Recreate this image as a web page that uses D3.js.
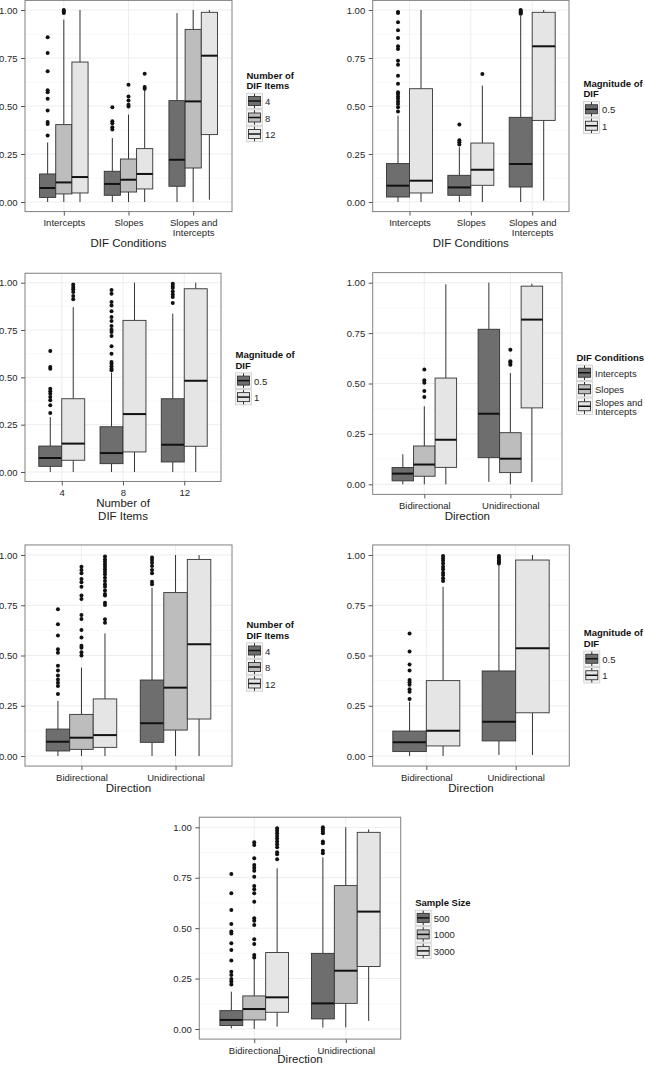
<!DOCTYPE html>
<html><head><meta charset="utf-8">
<script src="https://cdn.jsdelivr.net/npm/d3@7"></script>
<style>body{margin:0;background:#fff} svg{display:block} text{font-family:"Liberation Sans",Arial,Helvetica,sans-serif}</style>
</head><body>
<svg id="chart" width="645" height="1065"></svg>
<script>
// ---------- DATA ----------
// stats per category, per group: [lowerWhisker, Q1, median, Q3, upperWhisker]
const p1Categories = ["Intercepts", "Slopes", "Slopes and\nIntercepts"];
const p1Groups = ["4", "8", "12"];
const p1Stats = [
  [[0, 0.024, 0.073, 0.146, 0.31], [0, 0.042, 0.102, 0.403, 0.95], [0, 0.047, 0.130, 0.729, 1.0]],
  [[0, 0.035, 0.094, 0.160, 0.333], [0, 0.052, 0.116, 0.224, 0.455], [0, 0.068, 0.146, 0.278, 0.585]],
  [[0, 0.082, 0.220, 0.528, 0.984], [0, 0.177, 0.524, 0.899, 1.0], [0.012, 0.351, 0.762, 0.988, 1.0]]
];
const p1Outliers = [
  [[0.858, 0.776, 0.681, 0.582, 0.571, 0.538, 0.476, 0.417, 0.406, 0.347], [0.985, 0.993, 1.0], []],
  [[0.493, 0.42, 0.41, 0.389, 0.377], [0.611, 0.55, 0.528, 0.507, 0.498], [0.668, 0.599, 0.590]],
  [[], [], []]
];

const p2Categories = ["Intercepts", "Slopes", "Slopes and\nIntercepts"];
const p2Groups = ["0.5", "1"];
const p2Stats = [
  [[0, 0.026, 0.085, 0.200, 0.45], [0, 0.047, 0.111, 0.590, 1.0]],
  [[0, 0.035, 0.076, 0.139, 0.285], [0, 0.087, 0.168, 0.307, 0.606]],
  [[0, 0.078, 0.198, 0.441, 0.97], [0.007, 0.425, 0.811, 0.988, 1.0]]
];
const p2Outliers = [
  [[0.99, 0.985, 0.936, 0.894, 0.854, 0.811, 0.797, 0.736, 0.715, 0.658, 0.616, 0.571, 0.562, 0.55, 0.538, 0.524, 0.51, 0.493, 0.472], []],
  [[0.403, 0.321, 0.311, 0.299], [0.667]],
  [[0.98, 0.985, 0.99, 0.995, 1.0], []]
];

const p3Categories = ["4", "8", "12"];
const p3Groups = ["0.5", "1"];
const p3Stats = [
  [[0, 0.030, 0.074, 0.137, 0.29], [0, 0.062, 0.150, 0.387, 0.871]],
  [[0, 0.044, 0.100, 0.239, 0.525], [0, 0.106, 0.306, 0.801, 1.0]],
  [[0, 0.053, 0.144, 0.387, 0.836], [0, 0.136, 0.482, 0.968, 1.0]]
];
const p3Outliers = [
  [[0.639, 0.555, 0.546, 0.44, 0.426, 0.414, 0.396, 0.379, 0.352, 0.312], [0.99, 0.977, 0.965, 0.951, 0.93, 0.912]],
  [[0.961, 0.942, 0.898, 0.88, 0.849, 0.819, 0.798, 0.771, 0.752, 0.739, 0.718, 0.664, 0.625, 0.581, 0.572, 0.558, 0.546, 0.537], []],
  [[0.995, 0.982, 0.972, 0.954, 0.938, 0.924, 0.893], []]
];

const p4Categories = ["Bidirectional", "Unidirectional"];
const p4Groups = ["Intercepts", "Slopes", "Slopes and\nIntercepts"];
const p4Stats = [
  [[0, 0.017, 0.053, 0.083, 0.149], [0, 0.040, 0.098, 0.190, 0.387], [0, 0.084, 0.221, 0.527, 0.992]],
  [[0.012, 0.132, 0.350, 0.769, 1.0], [0, 0.058, 0.127, 0.256, 0.552], [0.012, 0.379, 0.817, 0.983, 0.995]]
];
const p4Outliers = [
  [[], [0.570, 0.516, 0.504, 0.463, 0.433], []],
  [[], [0.668, 0.61, 0.602, 0.593], []]
];

const p5Categories = ["Bidirectional", "Unidirectional"];
const p5Groups = ["4", "8", "12"];
const p5Stats = [
  [[0, 0.025, 0.071, 0.134, 0.274], [0, 0.033, 0.091, 0.207, 0.44], [0, 0.043, 0.104, 0.284, 0.61]],
  [[0, 0.068, 0.163, 0.378, 0.837], [0, 0.129, 0.340, 0.813, 1.0], [0, 0.184, 0.556, 0.978, 1.0]]
];
const p5Outliers = [
  [[0.73, 0.655, 0.599, 0.531, 0.514, 0.449, 0.425, 0.4, 0.381, 0.365, 0.348, 0.308],
   [0.942, 0.925, 0.909, 0.881, 0.864, 0.842, 0.798, 0.781, 0.701, 0.682, 0.627, 0.590, 0.549, 0.539, 0.516, 0.5],
   [0.992, 0.978, 0.967, 0.954, 0.942, 0.929, 0.917, 0.904, 0.887, 0.871, 0.854, 0.842, 0.823, 0.806, 0.798, 0.763, 0.751, 0.68, 0.663]],
  [[0.987, 0.975, 0.962, 0.945, 0.925, 0.909, 0.867, 0.854], [], []]
];

const p6Categories = ["Bidirectional", "Unidirectional"];
const p6Groups = ["0.5", "1"];
const p6Stats = [
  [[0, 0.022, 0.068, 0.124, 0.27], [0, 0.050, 0.126, 0.375, 0.842]],
  [[0.005, 0.075, 0.171, 0.423, 0.95], [0.005, 0.215, 0.536, 0.975, 1.0]]
];
const p6Outliers = [
  [[0.61, 0.52, 0.455, 0.425, 0.378, 0.367, 0.355, 0.332, 0.32, 0.284], [0.995, 0.983, 0.972, 0.958, 0.942, 0.929, 0.912, 0.9, 0.884, 0.871]],
  [[0.995, 0.988, 0.98, 0.972, 0.965, 0.958], []]
];

const p7Categories = ["Bidirectional", "Unidirectional"];
const p7Groups = ["500", "1000", "3000"];
const p7Stats = [
  [[0.003, 0.017, 0.045, 0.091, 0.185], [0, 0.045, 0.099, 0.164, 0.35], [0.012, 0.083, 0.157, 0.379, 0.797]],
  [[0.007, 0.050, 0.127, 0.375, 0.851], [0.008, 0.127, 0.289, 0.711, 1.0], [0.04, 0.310, 0.582, 0.975, 0.99]]
];
const p7Outliers = [
  [[0.769, 0.673, 0.590, 0.521, 0.483, 0.474, 0.425, 0.392, 0.339, 0.284, 0.268, 0.248, 0.235, 0.221],
   [0.926, 0.912, 0.846, 0.813, 0.8, 0.785, 0.755, 0.709, 0.693, 0.673, 0.631, 0.549, 0.537, 0.516, 0.445, 0.421, 0.367, 0.354],
   [0.995, 0.983, 0.97, 0.957, 0.945, 0.929, 0.916, 0.901, 0.876, 0.866, 0.841]],
  [[1.0, 0.99, 0.979, 0.97, 0.929, 0.921, 0.884, 0.871], [], []]
];

const yTickValues = [0, 0.25, 0.5, 0.75, 1.0];

// ---------- LAYOUT ----------
const panels = [
  {cats: p1Categories, groups: p1Groups, stats: p1Stats, outliers: p1Outliers, xTitle: "DIF Conditions", legendTitle: "Number of\nDIF Items", box: {left: 25, right: 232, y1: 10, y0: 202}},
  {cats: p2Categories, groups: p2Groups, stats: p2Stats, outliers: p2Outliers, xTitle: "DIF Conditions", legendTitle: "Magnitude of\nDIF", box: {left: 372.7, right: 569, y1: 10, y0: 202}},
  {cats: p3Categories, groups: p3Groups, stats: p3Stats, outliers: p3Outliers, xTitle: "Number of\nDIF Items", legendTitle: "Magnitude of\nDIF", box: {left: 25, right: 221, y1: 282.7, y0: 472}},
  {cats: p4Categories, groups: p4Groups, stats: p4Stats, outliers: p4Outliers, xTitle: "Direction", legendTitle: "DIF Conditions", box: {left: 372.7, right: 562, y1: 282.7, y0: 484.3}},
  {cats: p5Categories, groups: p5Groups, stats: p5Stats, outliers: p5Outliers, xTitle: "Direction", legendTitle: "Number of\nDIF Items", box: {left: 25, right: 232, y1: 555, y0: 756}},
  {cats: p6Categories, groups: p6Groups, stats: p6Stats, outliers: p6Outliers, xTitle: "Direction", legendTitle: "Magnitude of\nDIF", box: {left: 372.7, right: 569.3, y1: 555, y0: 756}},
  {cats: p7Categories, groups: p7Groups, stats: p7Stats, outliers: p7Outliers, xTitle: "Direction", legendTitle: "Sample Size", box: {left: 199.3, right: 400.7, y1: 827.3, y0: 1029}}
];

const svg = d3.select("#chart");
const TEXT = "#262626";
const H = 1065;

function drawPanel(p) {
  const g = svg.append("g");
  const b = p.box;
  const y = d3.scaleLinear().domain([0, 1]).range([b.y0, b.y1]);
  const top = y(1.05), bottom = y(-0.05);
  const n = p.cats.length, k = p.groups.length;
  const x = d3.scaleLinear().domain([0.4, n + 0.6]).range([b.left, b.right]);
  const fill = d3.scaleLinear().domain([0, k - 1]).range(["#6e6e6e", "#e5e5e5"]);
  const fillFor = j => k === 3 && j === 1 ? "#bdbdbd" : fill(j);

  g.append("rect").attr("x", b.left).attr("y", top).attr("width", b.right - b.left).attr("height", bottom - top).attr("fill", "#fff");
  [0.125, 0.375, 0.625, 0.875].forEach(v => g.append("line").attr("x1", b.left).attr("x2", b.right)
    .attr("y1", y(v)).attr("y2", y(v)).attr("stroke", "#f5f5f5").attr("stroke-width", 0.6));
  yTickValues.forEach(v => g.append("line").attr("x1", b.left).attr("x2", b.right)
    .attr("y1", y(v)).attr("y2", y(v)).attr("stroke", "#e8e8e8").attr("stroke-width", 0.8));
  d3.range(1, n + 1).forEach(c => g.append("line").attr("x1", x(c)).attr("x2", x(c))
    .attr("y1", top).attr("y2", bottom).attr("stroke", "#e8e8e8").attr("stroke-width", 0.8));

  const totalW = 0.75, bw = totalW / k;
  p.cats.forEach((cat, i) => {
    p.groups.forEach((gr, j) => {
      const s = p.stats[i][j];
      const cx = i + 1 - totalW / 2 + bw * (j + 0.5);
      const xl = x(cx - bw / 2), xr = x(cx + bw / 2), xc = x(cx);
      g.append("line").attr("x1", xc).attr("x2", xc).attr("y1", y(s[0])).attr("y2", y(s[1])).attr("stroke", "#333").attr("stroke-width", 1);
      g.append("line").attr("x1", xc).attr("x2", xc).attr("y1", y(s[3])).attr("y2", y(s[4])).attr("stroke", "#333").attr("stroke-width", 1);
      g.append("rect").attr("x", xl).attr("y", y(s[3])).attr("width", xr - xl).attr("height", y(s[1]) - y(s[3]))
        .attr("fill", fillFor(j)).attr("stroke", "#333").attr("stroke-width", 0.9);
      g.append("line").attr("x1", xl).attr("x2", xr).attr("y1", y(s[2])).attr("y2", y(s[2])).attr("stroke", "#111").attr("stroke-width", 2);
      g.selectAll(null).data(p.outliers[i][j]).join("circle")
        .attr("cx", xc).attr("cy", d => y(d)).attr("r", 2).attr("fill", "#111");
    });
  });

  g.append("rect").attr("x", b.left).attr("y", top).attr("width", b.right - b.left).attr("height", bottom - top)
    .attr("fill", "none").attr("stroke", "#808080").attr("stroke-width", 1);

  const ya = g.append("g").attr("transform", `translate(${b.left},0)`)
    .call(d3.axisLeft(y).tickValues(yTickValues).tickFormat(d3.format(".2f")).tickSize(4).tickPadding(3.5));
  ya.select(".domain").remove();
  ya.selectAll(".tick line").attr("stroke", "#555");
  ya.selectAll(".tick text").attr("fill", TEXT).style("font-size", "9.5px").style("font-family", '"Liberation Sans",Arial,sans-serif');

  const xa = g.append("g").attr("transform", `translate(0,${bottom})`)
    .call(d3.axisBottom(x).tickValues(d3.range(1, n + 1)).tickFormat(c => p.cats[c - 1]).tickSize(4).tickPadding(3));
  xa.select(".domain").remove();
  xa.selectAll(".tick line").attr("stroke", "#555");
  xa.selectAll(".tick text").attr("fill", TEXT).style("font-size", "9.5px").style("font-family", '"Liberation Sans",Arial,sans-serif')
    .each(function(c) {
      const t = d3.select(this);
      const lines = p.cats[c - 1].split("\n");
      t.text(null).attr("dy", null).attr("y", 10.5).attr("dominant-baseline", "central");
      lines.forEach((l, li) => t.append("tspan").attr("x", 0).attr("dy", li === 0 ? 0 : 9.7).text(l));
    });
  const tickLines = d3.max(p.cats, c => c.split("\n").length);
  const titleLines = p.xTitle.split("\n");
  let ty = bottom + 21.5 + (tickLines - 1) * 10;
  ty = Math.min(ty, H - 6.5 - (titleLines.length - 1) * 13);
  const xt = g.append("text").attr("x", (b.left + b.right) / 2).attr("y", ty)
    .attr("text-anchor", "middle").attr("dominant-baseline", "central").attr("fill", "#1a1a1a").style("font-size", "11.5px");
  titleLines.forEach((l, li) => xt.append("tspan").attr("x", (b.left + b.right) / 2).attr("dy", li === 0 ? 0 : 13).text(l));

  // legend
  const lx = b.right + 14.5;
  const lt = p.legendTitle.split("\n");
  const labs = p.groups.map(s => s.split("\n"));
  const kh = labs.map(l => l.length > 1 ? 17.5 : 16.5);
  const blockH = lt.length * 10.5 + 2 + d3.sum(kh);
  const T = (top + bottom) / 2 - blockH / 2;
  lt.forEach((l, li) => g.append("text").attr("x", lx).attr("y", T + 5.25 + li * 10.5).attr("dominant-baseline", "central")
    .attr("fill", "#111").style("font-size", "9.5px").style("font-weight", "bold").text(l));
  let ky = T + lt.length * 10.5 + 2;
  labs.forEach((lab, j) => {
    const h = kh[j], kc = ky + h / 2;
    const kx = lx;
    g.append("rect").attr("x", kx).attr("y", ky + 0.5).attr("width", 16).attr("height", h - 1)
      .attr("fill", "#f4f4f4").attr("stroke", "#cccccc").attr("stroke-width", 0.8);
    g.append("line").attr("x1", kx + 8).attr("x2", kx + 8).attr("y1", ky + 1).attr("y2", ky + h - 1).attr("stroke", "#333").attr("stroke-width", 1);
    g.append("rect").attr("x", kx + 2).attr("y", kc - 4.5).attr("width", 12).attr("height", 9)
      .attr("fill", fillFor(j)).attr("stroke", "#333").attr("stroke-width", 0.9);
    g.append("line").attr("x1", kx + 2).attr("x2", kx + 14).attr("y1", kc).attr("y2", kc).attr("stroke", "#111").attr("stroke-width", 1.5);
    const tt = g.append("text").attr("x", kx + 18.5).attr("y", kc - (lab.length - 1) * 4.75).attr("dominant-baseline", "central")
      .attr("fill", TEXT).style("font-size", "9.5px");
    lab.forEach((l, li) => tt.append("tspan").attr("x", kx + 18.5).attr("dy", li === 0 ? 0 : 9.5).text(l));
    ky += h;
  });
}

panels.forEach(drawPanel);
</script>
</body></html>
